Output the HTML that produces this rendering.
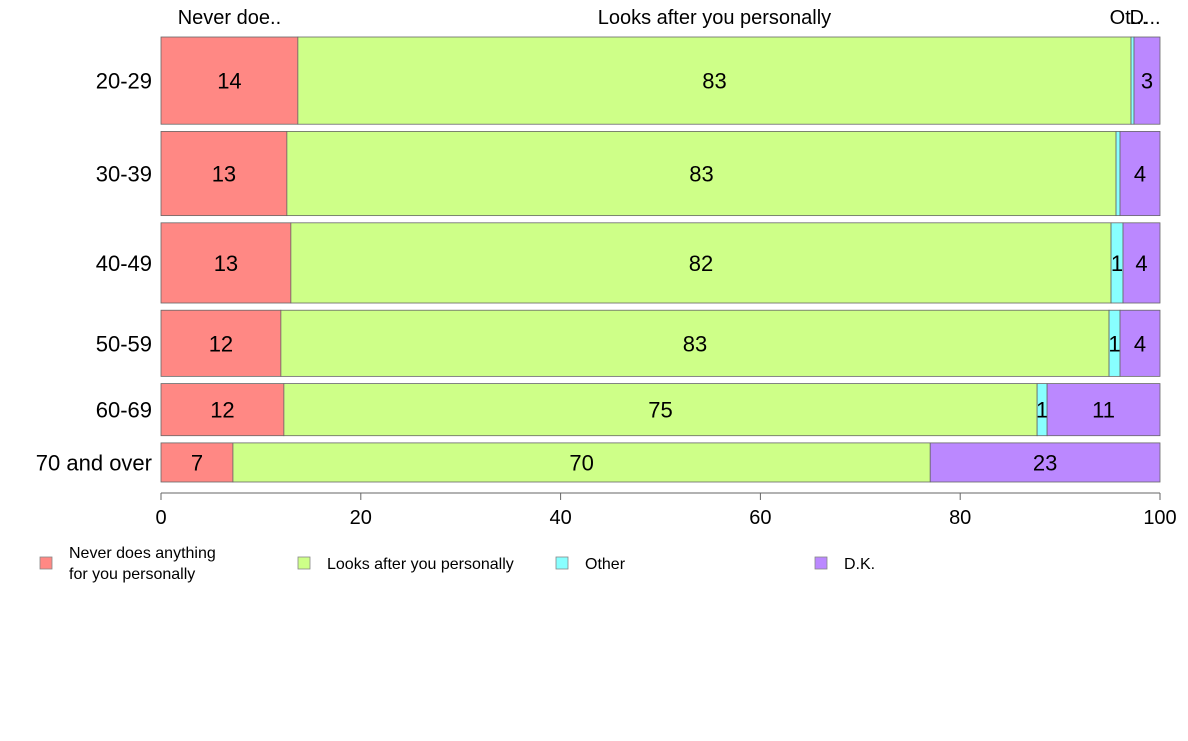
<!DOCTYPE html>
<html><head><meta charset="utf-8"><style>
body{margin:0;background:#fff;}
svg text{font-family:"Liberation Sans",Arial,sans-serif;}
</style></head><body>
<svg id="chart" width="1188" height="736" xmlns="http://www.w3.org/2000/svg">
<g id="plot"></g>
<g id="axis"></g>
<g id="legend"></g>
</svg>
<script>
const categories = ["20-29","30-39","40-49","50-59","60-69","70 and over"];
const seriesNames = ["Never does anything for you personally","Looks after you personally","Other","D.K."];
const neverVals = [13.7,12.6,13.0,12.0,12.3,7.2];
const looksVals = [83.4,83.0,82.1,82.9,75.4,69.8];
const otherVals = [0.3,0.4,1.2,1.1,1.0,0.0];
const dkVals = [2.6,4.0,3.7,4.0,11.3,23.0];
const rowWeights = [87,84,80,66,52,39];
const xTicks = [0,20,40,60,80,100];
const topLabels = ["Never doe..","Looks after you personally","Ot...","D..."];

const colors = ["#ff8884","#ceff88","#88ffff","#bb88ff"];
const series = [neverVals,looksVals,otherVals,dkVals];
const NS = "http://www.w3.org/2000/svg";
const X0 = 161, X1 = 1160;
const x = v => X0 + (X1 - X0) * v / 100;
const TOP = 37, BOT = 482;
const gap = 7.2;
const totalW = rowWeights.reduce((a,b)=>a+b,0);
const avail = BOT - TOP - gap * (categories.length - 1);
function mk(tag, attrs, parent){const e=document.createElementNS(NS,tag);for(const k in attrs)e.setAttribute(k,attrs[k]);parent.appendChild(e);return e;}
const plot = document.getElementById("plot");
let y = TOP;
categories.forEach((cat, i) => {
  const h = avail * rowWeights[i] / totalW;
  const lab = mk("text",{x:152,y:y+h/2+8,"text-anchor":"end","font-size":22,fill:"#000"},plot);
  
  
  lab.textContent = cat;
  let cum = 0;
  series.forEach((s, j) => {
    const v = s[i];
    const a = x(cum), b = x(cum + v);
    if (v > 0) {
      const r = mk("rect",{x:a,y:y,width:b-a,height:h,fill:colors[j],stroke:"#666","stroke-width":0.8},plot);
      
      
      const rv = Math.round(v);
      if (rv >= 1 && (b - a) >= 8) {
        const t = mk("text",{x:(a+b)/2,y:y+h/2+8,"text-anchor":"middle","font-size":22,fill:"#000"},plot);
        
        
        t.textContent = rv;
      }
    }
    if (i === 0) {
      const t = mk("text",{x:(a+b)/2,y:24,"text-anchor":"middle","font-size":20,fill:"#000"},plot);
      
      
      t.textContent = topLabels[j];
      if (j === 2) t.setAttribute("x", (a+b)/2 - 4);
      if (j === 3) t.setAttribute("x", (a+b)/2 - 2);
    }
    cum += v;
  });
  y += h + gap;
});
const axis = document.getElementById("axis");
const al = mk("line",{x1:X0,x2:X1,y1:493,y2:493,stroke:"#666"},axis);


xTicks.forEach(v => {
  const tk = mk("line",{x1:x(v),x2:x(v),y1:493,y2:500,stroke:"#666"},axis);
  
  
  const t = mk("text",{x:x(v),y:524,"text-anchor":"middle","font-size":20,fill:"#000"},axis);
  
  
  t.textContent = v;
});
const legend = document.getElementById("legend");
const legX = [40,298,556,815];
const legLines = [["Never does anything","for you personally"],["Looks after you personally"],["Other"],["D.K."]];
legLines.forEach((lines, j) => {
  const r = mk("rect",{x:legX[j],y:557,width:12,height:12,fill:colors[j],stroke:"#888","stroke-width":0.8},legend);
  
  
  lines.forEach((ln, k) => {
    const ty = lines.length === 1 ? 569 : 558 + k * 21;
    const t = mk("text",{x:legX[j]+29,y:ty,"font-size":16,fill:"#000"},legend);
    
    
    t.textContent = ln;
  });
});
</script>
</body></html>
